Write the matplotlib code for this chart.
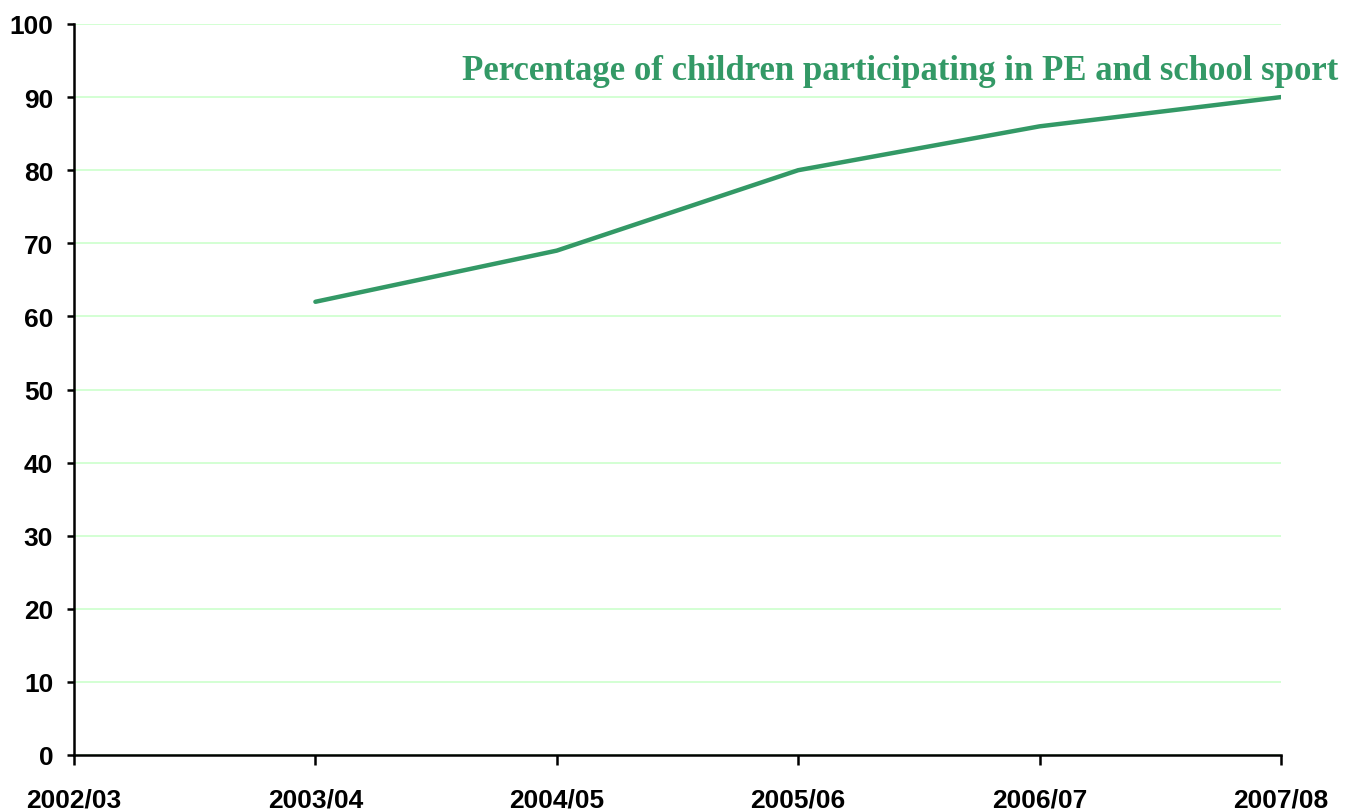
import matplotlib
matplotlib.use("Agg")
import matplotlib.pyplot as plt

# Participation data by school year
years = ["2002/03", "2003/04", "2004/05", "2005/06", "2006/07", "2007/08"]
participation = [None, 62, 69, 80, 86, 90]
y_ticks = [0, 10, 20, 30, 40, 50, 60, 70, 80, 90, 100]

line_color = "#339966"
grid_color = "#ccffcc"

fig = plt.figure(figsize=(13.45, 8.12), dpi=100)
ax = fig.add_axes([74 / 1345, 1 - 756 / 812, (1281 - 74) / 1345, (756 - 25) / 812])

xs = [i for i, v in enumerate(participation) if v is not None]
ys = [v for v in participation if v is not None]
ax.plot(xs, ys, color=line_color, lw=3.2, solid_capstyle="round", zorder=3)

ax.set_xlim(0, len(years) - 1)
ax.set_ylim(0, 100)
ax.set_xticks(range(len(years)))
ax.set_xticklabels(years)
ax.set_yticks(y_ticks)
ax.yaxis.grid(True, color=grid_color, lw=1.2)
ax.set_axisbelow(True)

for side in ("top", "right"):
    ax.spines[side].set_visible(False)
for side in ("left", "bottom"):
    ax.spines[side].set_linewidth(1.8)
    ax.spines[side].set_color("black")

ax.tick_params(axis="y", length=5, width=1.8, pad=10, direction="out")
ax.tick_params(axis="x", length=7.5, width=1.8, pad=16, direction="out")
for lab in ax.get_xticklabels() + ax.get_yticklabels():
    lab.set_fontfamily("Liberation Sans")
    lab.set_fontweight("bold")
    lab.set_fontsize(19)

fig.text(1338 / 1345, 1 - 80 / 812,
         "Percentage of children participating in PE and school sport",
         ha="right", va="baseline", color=line_color,
         fontfamily="Liberation Serif", fontweight="bold", fontsize=25)

fig.savefig("out.png", dpi=100)
